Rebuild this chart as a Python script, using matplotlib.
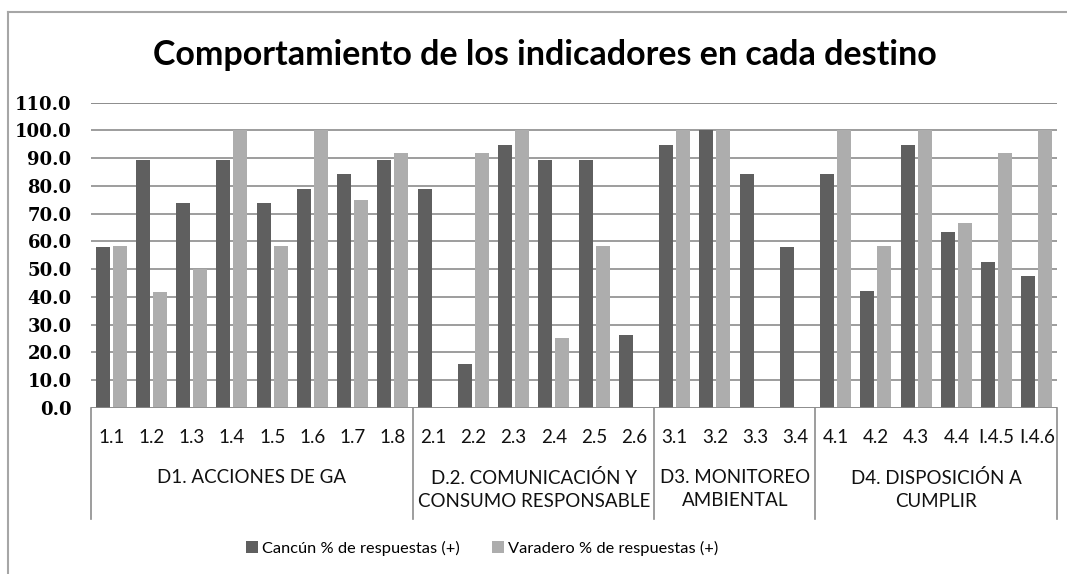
import matplotlib
matplotlib.use("Agg")
import matplotlib.pyplot as plt
import matplotlib.transforms as mtransforms
import numpy as np

plt.rcParams['font.family'] = ['Lato', 'DejaVu Sans']

# indicadores por destino
indicadores = ['1.1', '1.2', '1.3', '1.4', '1.5', '1.6', '1.7', '1.8',
               '2.1', '2.2', '2.3', '2.4', '2.5', '2.6',
               '3.1', '3.2', '3.3', '3.4',
               '4.1', '4.2', '4.3', '4.4', 'I.4.5', 'I.4.6']
grupos = ['D1. ACCIONES DE GA', 'D.2. COMUNICACIÓN Y\nCONSUMO RESPONSABLE',
          'D3. MONITOREO\nAMBIENTAL', 'D4. DISPOSICIÓN A\nCUMPLIR']
grupo_tam = [8, 6, 4, 6]

cancun = [57.9, 89.5, 73.7, 89.5, 73.7, 78.9, 84.2, 89.5,
          78.9, 15.8, 94.7, 89.5, 89.5, 26.3,
          94.7, 100.0, 84.2, 57.9,
          84.2, 42.1, 94.7, 63.2, 52.6, 47.4]
varadero = [58.3, 41.7, 50.0, 100.0, 58.3, 100.0, 75.0, 91.7,
            0.0, 91.7, 100.0, 25.0, 58.3, 0.0,
            100.0, 100.0, 0.0, 0.0,
            100.0, 58.3, 100.0, 66.7, 91.7, 100.0]

serie_nombres = ['Cancún % de respuestas (+)', 'Varadero % de respuestas (+)']
c_oscuro = '#5f5f5f'
c_claro = '#adadad'
c_linea = '#8c8c8c'

fig = plt.figure(figsize=(10.67, 5.74), dpi=100)
ax = fig.add_axes([0.0853, 0.2897, 0.9053, 0.5314])

x = np.arange(len(indicadores))
w = 0.35
b1 = ax.bar(x - 0.21, cancun, w, color=c_oscuro, zorder=3)
b2 = ax.bar(x + 0.21, varadero, w, color=c_claro, zorder=3)

ax.set_xlim(-0.5, len(indicadores) - 0.5)
ax.set_ylim(0, 110)
ax.set_yticks(np.arange(0, 111, 10))
ax.set_yticklabels([f'{v:.1f}' for v in np.arange(0, 111, 10)],
                   family='DejaVu Serif', fontweight='bold', fontsize=13)
ax.tick_params(axis='y', length=0, pad=14)
ax.yaxis.grid(True, color=c_linea, linewidth=1.2, zorder=0)
ax.axhline(110, color=c_linea, linewidth=1.2, zorder=0)
for s in ax.spines.values():
    s.set_visible(False)
ax.axhline(0, color=c_linea, linewidth=1.2, zorder=4)
ax.set_xticks([])

# tabla de categorias bajo el eje
trans = mtransforms.blended_transform_factory(ax.transData, ax.transAxes)
for i, lab in enumerate(indicadores):
    ax.text(i, -0.097, lab, transform=trans, ha='center', va='center',
            fontsize=13.5, color='#111111')

limites = np.concatenate([[0], np.cumsum(grupo_tam)]) - 0.5
for xb in limites:
    ax.plot([xb, xb], [0, -0.365], transform=trans, color=c_linea,
            linewidth=1.2, clip_on=False)
for g, nombre in enumerate(grupos):
    xc = (limites[g] + limites[g + 1]) / 2
    ax.text(xc, -0.2, nombre, transform=trans, ha='center', va='top',
            fontsize=13.5, color='#111111', linespacing=1.45)

fig.suptitle('Comportamiento de los indicadores en cada destino',
             x=0.511, y=0.904, va='center', fontsize=24.5, fontweight='bold')

fig.legend([b1, b2], serie_nombres, loc='center', ncol=2,
           bbox_to_anchor=(0.452, 0.045), frameon=False, fontsize=11.8,
           handlelength=0.7, handleheight=0.7, handletextpad=0.25,
           columnspacing=2.0)

# borde del grafico
fig.add_artist(plt.Line2D([0.0075, 0.0075], [0, 1 - 12 / 574], color='#a6a6a6',
                          linewidth=1.5))
fig.add_artist(plt.Line2D([0.0075, 1], [1 - 12 / 574, 1 - 12 / 574],
                          color='#a6a6a6', linewidth=1.5))

fig.savefig('out.png', dpi=100)
